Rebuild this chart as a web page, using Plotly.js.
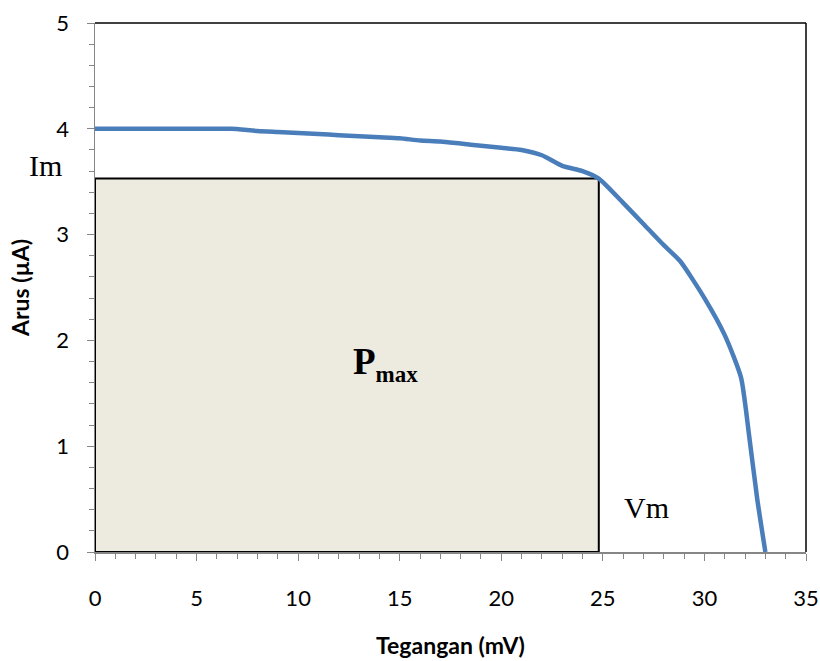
<!DOCTYPE html>
<html>
<head>
<meta charset="utf-8">
<script src="https://cdn.plot.ly/plotly-3.0.1.min.js"></script>
<style>
  html, body { margin: 0; padding: 0; background: #fff; }
  #chart { width: 820px; height: 661px; }
</style>
</head>
<body>
<div id="chart"></div>
<script>
// I-V characteristic of the cell: voltage (mV) vs current (µA)
const voltage = [0, 1, 2, 3, 4, 5, 6, 6.7, 8, 9, 10, 11, 12, 13, 14, 15, 16, 17, 18, 19, 20, 21, 22, 23, 24, 24.8, 26, 27, 28, 28.8, 30, 31, 31.8, 32.2, 32.6, 33];
const current = [4.0, 4.0, 4.0, 4.0, 4.0, 4.0, 4.0, 4.0, 3.98, 3.97, 3.96, 3.95, 3.94, 3.93, 3.92, 3.91, 3.89, 3.88, 3.86, 3.84, 3.82, 3.80, 3.75, 3.65, 3.60, 3.53, 3.30, 3.10, 2.90, 2.75, 2.40, 2.05, 1.65, 1.10, 0.50, 0.0];

// Maximum power point
const Vm = 24.8;
const Im = 3.53;

const xTicks = [0, 5, 10, 15, 20, 25, 30, 35];
const yTicks = [0, 1, 2, 3, 4, 5];

const serif = "Liberation Serif, Times New Roman, serif";
const sans = "Lato, Open Sans, sans-serif";

const traces = [
  {
    // Pmax area: rectangle from origin to (Vm, Im)
    x: [0, Vm, Vm, 0, 0],
    y: [0, 0, Im, Im, 0],
    type: "scatter",
    mode: "lines",
    fill: "toself",
    fillcolor: "#EDEAE0",
    line: { color: "#000000", width: 2 },
    hoverinfo: "skip",
    showlegend: false
  },
  {
    x: voltage,
    y: current,
    type: "scatter",
    mode: "lines",
    line: { color: "#4A7EBB", width: 4.5, shape: "spline", smoothing: 0.6 },
    showlegend: false
  }
];

const layout = {
  width: 820,
  height: 661,
  margin: { l: 95, r: 14, t: 23, b: 109 },
  paper_bgcolor: "#ffffff",
  plot_bgcolor: "#ffffff",
  showlegend: false,
  xaxis: {
    range: [0, 35],
    tickvals: xTicks,
    ticktext: xTicks.map(String),
    ticks: "outside",
    ticklen: 7,
    tickcolor: "#868686",
    tickwidth: 1,
    ticklabelstandoff: 19,
    minor: { dtick: 1, ticks: "outside", ticklen: 5, tickcolor: "#868686", showgrid: false },
    showgrid: false,
    zeroline: false,
    showline: true,
    linecolor: "#868686",
    linewidth: 1.5,
    tickfont: { family: sans, size: 22, color: "#000" },
    title: { text: "<b>Tegangan (mV)</b>", font: { family: sans, size: 23, color: "#000" }, standoff: 28 }
  },
  yaxis: {
    range: [0, 5],
    tickvals: yTicks,
    ticktext: yTicks.map(String),
    ticks: "outside",
    ticklen: 7,
    tickcolor: "#868686",
    tickwidth: 1,
    ticklabelstandoff: 13,
    minor: { dtick: 0.2, ticks: "outside", ticklen: 5, tickcolor: "#868686", showgrid: false },
    showgrid: false,
    zeroline: false,
    showline: true,
    linecolor: "#868686",
    linewidth: 1.5,
    tickfont: { family: sans, size: 22, color: "#000" },
    title: { text: "<b>Arus (µA)</b>", font: { family: sans, size: 23, color: "#000" }, standoff: 20 }
  },
  shapes: [
    { type: "line", xref: "paper", yref: "paper", x0: 0, x1: 1, y0: 1, y1: 1, line: { color: "#000", width: 1.5 } },
    { type: "line", xref: "paper", yref: "paper", x0: 1, x1: 1, y0: 0, y1: 1, line: { color: "#000", width: 1.5 } }
  ],
  annotations: [
    {
      text: "Im", x: 0, y: Im + 0.12, xref: "x", yref: "y", xanchor: "right", yanchor: "middle",
      xshift: -31, showarrow: false, font: { family: serif, size: 30, color: "#000" }
    },
    {
      text: "Vm", x: 27.15, y: 0.42, xref: "x", yref: "y", xanchor: "center", yanchor: "middle",
      showarrow: false, font: { family: serif, size: 30, color: "#000" }
    },
    {
      text: "<b>P<sub><span style='font-size:23px'>max</span></sub></b>", x: 14.3, y: 1.78, xref: "x", yref: "y",
      xanchor: "center", yanchor: "middle",
      showarrow: false, font: { family: serif, size: 37, color: "#000" }
    }
  ]
};

Plotly.newPlot("chart", traces, layout, { displayModeBar: false, staticPlot: true });
</script>
</body>
</html>
